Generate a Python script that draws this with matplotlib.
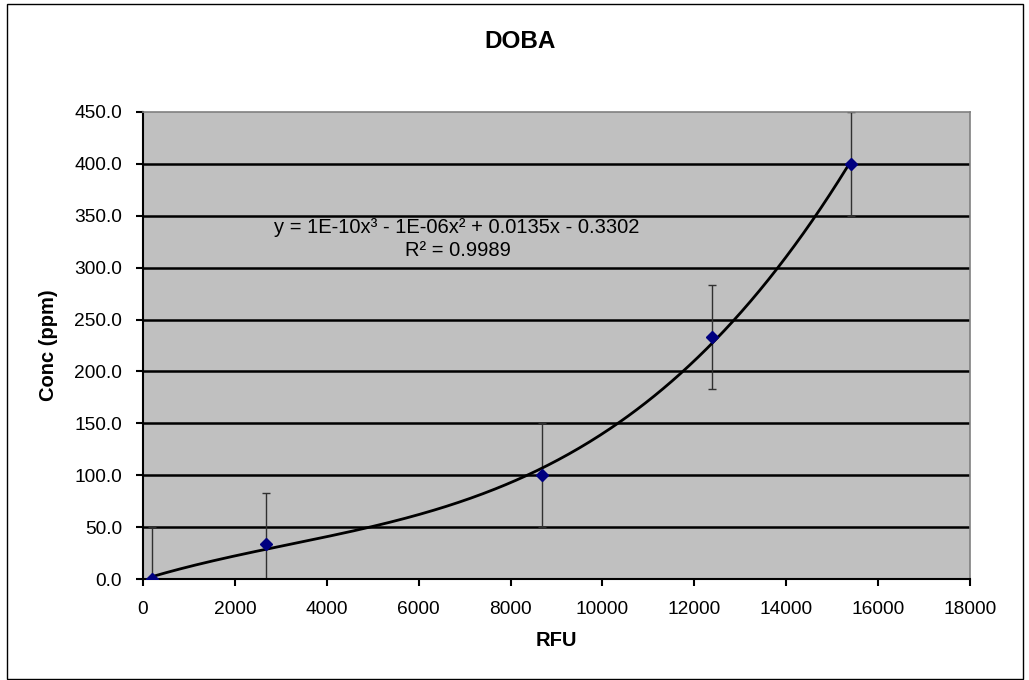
import numpy as np
import matplotlib
matplotlib.use("Agg")
import matplotlib.pyplot as plt
from matplotlib.patches import Rectangle

plt.rcParams['font.family'] = ['Liberation Sans', 'DejaVu Sans']

# Calibration standards
rfu = [190, 2680, 8680, 12380, 15400]
conc = [0.0, 33.3, 100.0, 233.3, 400.0]
conc_err = [50, 50, 50, 50, 50]

title = "DOBA"
x_label = "RFU"
y_label = "Conc (ppm)"
x_ticks = [0, 2000, 4000, 6000, 8000, 10000, 12000, 14000, 16000, 18000]
y_ticks = [0, 50, 100, 150, 200, 250, 300, 350, 400, 450]
equation = "y = 1E-10x³ - 1E-06x² + 0.0135x - 0.3302"
r_squared = "R² = 0.9989"

fig = plt.figure(figsize=(10.29, 6.8), dpi=100)
fig.patch.set_facecolor('white')
fig.add_artist(Rectangle((7 / 1029, 1 - 679 / 680), (1023 - 7) / 1029, (679 - 4) / 680,
                         transform=fig.transFigure, fill=False, edgecolor='black', lw=1.0))

ax = fig.add_axes([143 / 1029, 1 - 579 / 680, (970 - 143) / 1029, (579 - 112) / 680])
ax.set_facecolor('#C0C0C0')
ax.set_xlim(0, 18000)
ax.set_ylim(0, 450)

for v in y_ticks[1:-1]:
    ax.axhline(v, color='black', lw=1.8, zorder=1)

# Cubic trendline fitted to the standards
coef = np.polyfit(rfu, conc, 3)
xs = np.linspace(min(rfu), max(rfu), 400)
ax.plot(xs, np.polyval(coef, xs), color='black', lw=2.0, zorder=3)

ax.errorbar(rfu, conc, yerr=conc_err, fmt='none', ecolor='#303030', elinewidth=1.0,
            capsize=3, capthick=1.0, zorder=2)
ax.plot(rfu, conc, linestyle='none', marker='D', markersize=6, color='#000080', zorder=4)

ax.set_xticks(x_ticks)
ax.set_xticklabels([str(t) for t in x_ticks])
ax.set_yticks(y_ticks)
ax.set_yticklabels([f"{t:.1f}" for t in y_ticks])
ax.tick_params(axis='both', direction='out', length=5, width=1.5, labelsize=13.8, color='black')
ax.tick_params(axis='x', pad=11)
ax.tick_params(axis='y', pad=10)

for side in ('left', 'bottom'):
    ax.spines[side].set_color('black')
    ax.spines[side].set_linewidth(1.5)
for side in ('top', 'right'):
    ax.spines[side].set_color('#808080')
    ax.spines[side].set_linewidth(1.2)

ax.set_xlabel(x_label, fontsize=14.5, fontweight='bold', labelpad=9)
ax.set_ylabel(y_label, fontsize=14.5, fontweight='bold', labelpad=12)

fig.text(520 / 1029, 1 - 42 / 680, title, ha='center', va='center', fontsize=17.5, fontweight='bold')

fig.text(457 / 1029, 1 - 228 / 680, equation, ha='center', va='center', fontsize=14.5)
fig.text(458 / 1029, 1 - 251 / 680, r_squared, ha='center', va='center', fontsize=14.5)

fig.savefig("out.png", dpi=100, facecolor='white')
